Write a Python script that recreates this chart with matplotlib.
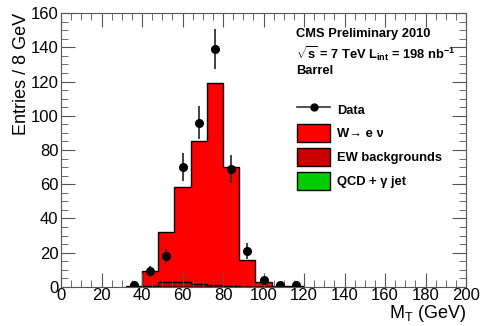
import numpy as np
import matplotlib.pyplot as plt
from matplotlib.patches import Patch
from matplotlib.lines import Line2D
from matplotlib.ticker import MultipleLocator

plt.rcParams['font.family'] = ['Liberation Sans', 'DejaVu Sans']
plt.rcParams['mathtext.fontset'] = 'custom'
plt.rcParams['mathtext.rm'] = 'Liberation Sans'
plt.rcParams['mathtext.bf'] = 'Liberation Sans:bold'

# histogram bins (8 GeV wide)
edges = np.arange(32, 128, 8)
w_enu = [0.3, 9.0, 29.0, 55.5, 83.5, 118.0, 69.5, 15.5, 2.7, 0.8, 0.3]
ew_bkg = [0.2, 0.4, 3.0, 2.5, 1.5, 1.0, 0.5, 0.2, 0.1, 0.0, 0.0]
qcd = [0.0, 0.1, 0.1, 0.1, 0.1, 0.0, 0.0, 0.0, 0.0, 0.0, 0.0]

# data points at bin centres
data_x = [36, 44, 52, 60, 68, 76, 84, 92, 100, 108, 116]
data_y = [1, 9, 18, 70, 96, 139, 69, 21, 4, 1, 1]

fig = plt.figure(figsize=(4.81, 3.26), dpi=100)
ax = fig.add_axes([0.127, 0.12, 0.842, 0.84])

centers = (edges[:-1] + edges[1:]) / 2
qcd = np.array(qcd)
ew_stack = qcd + np.array(ew_bkg)
total = ew_stack + np.array(w_enu)

ax.hist(centers, bins=edges, weights=total, histtype='stepfilled',
        facecolor='#ff0000', edgecolor='black', linewidth=1.0)
ax.hist(centers, bins=edges, weights=ew_stack, histtype='stepfilled',
        facecolor='#cc0000', edgecolor='black', linewidth=1.0)
ax.hist(centers, bins=edges, weights=qcd, histtype='stepfilled',
        facecolor='#00cc00', edgecolor='black', linewidth=1.0)

ax.errorbar(data_x, data_y, yerr=np.sqrt(data_y), fmt='o', color='black',
            ecolor='#333333', markersize=5.5, elinewidth=1.3, capsize=0)

ax.set_xlim(0, 200)
ax.set_ylim(0, 160)
ax.xaxis.set_major_locator(MultipleLocator(20))
ax.xaxis.set_minor_locator(MultipleLocator(5))
ax.yaxis.set_major_locator(MultipleLocator(20))
ax.yaxis.set_minor_locator(MultipleLocator(5))
ax.tick_params(which='both', direction='in', top=True, right=True,
               labelsize=12, colors='#555555', labelcolor='black')
ax.tick_params(which='major', length=10)
ax.tick_params(axis='x', which='major', pad=1)
ax.tick_params(axis='y', which='major', pad=2)
ax.tick_params(which='minor', length=5)
for s in ax.spines.values():
    s.set_color('#555555')

ax.set_xlabel(r'M$_\mathrm{T}$ (GeV)', fontsize=13, loc='right', labelpad=0)
ax.set_ylabel('Entries / 8 GeV', fontsize=13, loc='top', labelpad=0)

tx = 0.580
ax.text(tx, 0.925, 'CMS Preliminary 2010', transform=ax.transAxes,
        fontsize=9.3, fontweight='bold', va='center')
ax.text(tx, 0.852, r'$\sqrt{\mathbf{s}}$ = 7 TeV L$_\mathbf{int}$ = 198 nb$^\mathbf{-1}$',
        transform=ax.transAxes, fontsize=9.3, fontweight='bold', va='center')
ax.text(tx, 0.789, 'Barrel', transform=ax.transAxes,
        fontsize=9.3, fontweight='bold', va='center')

handles = [
    Line2D([], [], color='#333333', marker='o', markerfacecolor='black',
           markeredgecolor='black', markersize=5, linewidth=1.2),
    Patch(facecolor='#ff0000', edgecolor='black'),
    Patch(facecolor='#cc0000', edgecolor='black'),
    Patch(facecolor='#00cc00', edgecolor='black'),
]
labels = ['Data', 'W→ e ν', 'EW backgrounds', 'QCD + γ jet']
leg = ax.legend(handles, labels, loc='upper left', bbox_to_anchor=(0.583, 0.68),
                frameon=False, prop={'size': 9.3, 'weight': 'bold'},
                handlelength=2.55, handleheight=1.75, labelspacing=0.45,
                handletextpad=0.55, borderaxespad=0, borderpad=0)

fig.savefig('out.png', dpi=100)
